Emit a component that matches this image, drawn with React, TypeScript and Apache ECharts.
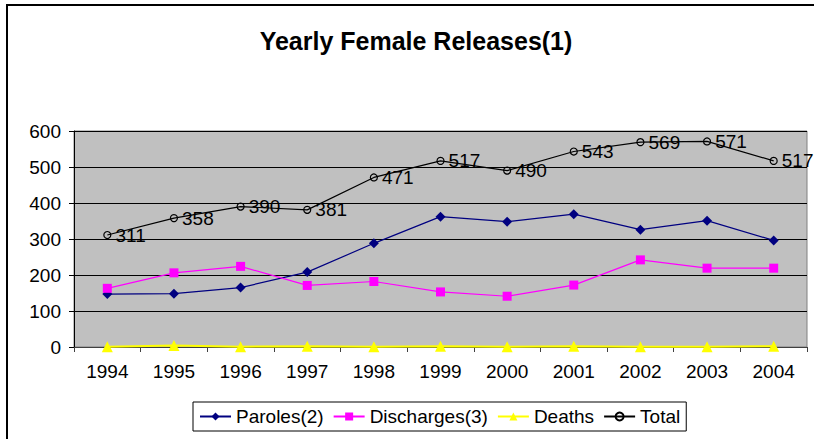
import React, { useEffect, useRef } from "react";
import * as echarts from "echarts";

const years = ["1994", "1995", "1996", "1997", "1998", "1999", "2000", "2001", "2002", "2003", "2004"];
const paroles = [147, 148, 165, 208, 288, 362, 348, 369, 326, 351, 296];
const discharges = [163, 206, 224, 171, 182, 153, 141, 172, 242, 219, 219];
const deaths = [1, 4, 1, 2, 1, 2, 1, 2, 1, 1, 2];
const totals = [311, 358, 390, 381, 471, 517, 490, 543, 569, 571, 517];
const yTicks = [0, 100, 200, 300, 400, 500, 600];

const FONT = "Liberation Sans, Arial, sans-serif";

export default function App() {
  const ref = useRef<HTMLDivElement>(null);
  useEffect(() => {
    if (!ref.current) return;
    const chart = echarts.init(ref.current, undefined, { renderer: "svg" });
    chart.setOption({
      animation: false,
      backgroundColor: "#ffffff",
      textStyle: { fontFamily: FONT },
      title: {
        text: "Yearly Female Releases(1)",
        left: 416,
        textAlign: "center",
        top: 28,
        padding: 0,
        textStyle: { fontFamily: FONT, fontSize: 25, fontWeight: "bold", color: "#000" },
      },
      graphic: [
        {
          type: "rect",
          shape: { x: 7, y: 5, width: 900, height: 600 },
          style: { fill: "none", stroke: "#000", lineWidth: 2 },
          silent: true,
        },
      ],
      legend: {
        left: 193,
        top: 402,
        padding: [5, 6, 5, 6],
        itemWidth: 31,
        itemHeight: 10,
        itemGap: 9,
        borderColor: "#000",
        borderWidth: 1,
        textStyle: { fontFamily: FONT, fontSize: 19, color: "#000", padding: [0, 0, 0, 0] },
        data: ["Paroles(2)", "Discharges(3)", "Deaths", "Total"],
      },
      grid: {
        left: 74,
        right: 7,
        top: 131,
        bottom: 92,
        show: true,
        backgroundColor: "#C0C0C0",
        borderColor: "#808080",
        borderWidth: 1,
      },
      xAxis: {
        type: "category",
        data: years,
        boundaryGap: true,
        axisLine: { lineStyle: { color: "#404040", width: 1 } },
        axisTick: { show: true, length: 5, lineStyle: { color: "#404040" } },
        axisLabel: { fontFamily: FONT, fontSize: 19, color: "#000", margin: 15 },
        splitLine: { show: false },
      },
      yAxis: {
        type: "value",
        min: yTicks[0],
        max: yTicks[yTicks.length - 1],
        interval: 100,
        axisLine: { show: true, lineStyle: { color: "#000", width: 1 } },
        axisTick: { show: true, length: 5, lineStyle: { color: "#000" } },
        axisLabel: { fontFamily: FONT, fontSize: 19, color: "#000", margin: 13 },
        splitLine: { show: true, lineStyle: { color: "#000", width: 1 } },
      },
      series: [
        {
          name: "Paroles(2)",
          type: "line",
          data: paroles,
          symbol: "diamond",
          symbolSize: 10,
          itemStyle: { color: "#000080" },
          lineStyle: { color: "#000080", width: 1.2 },
        },
        {
          name: "Discharges(3)",
          type: "line",
          data: discharges,
          symbol: "rect",
          symbolSize: 9,
          itemStyle: { color: "#FF00FF" },
          lineStyle: { color: "#FF00FF", width: 1.2 },
        },
        {
          name: "Deaths",
          type: "line",
          data: deaths,
          symbol: "triangle",
          symbolSize: 11,
          itemStyle: { color: "#FFFF00" },
          lineStyle: { color: "#FFFF00", width: 2 },
        },
        {
          name: "Total",
          type: "line",
          data: totals,
          symbol: "circle",
          symbolSize: 7,
          itemStyle: { color: "rgba(0,0,0,0)", borderColor: "#000", borderWidth: 1.2 },
          lineStyle: { color: "#000", width: 1.2 },
          label: {
            show: true,
            position: "right",
            distance: 4,
            fontFamily: FONT,
            fontSize: 19,
            color: "#000",
          },
        },
      ],
    });
    return () => chart.dispose();
  }, []);
  return (
    <div
      ref={ref}
      style={{ position: "absolute", left: 0, top: 0, width: 814, height: 439 }}
    />
  );
}
